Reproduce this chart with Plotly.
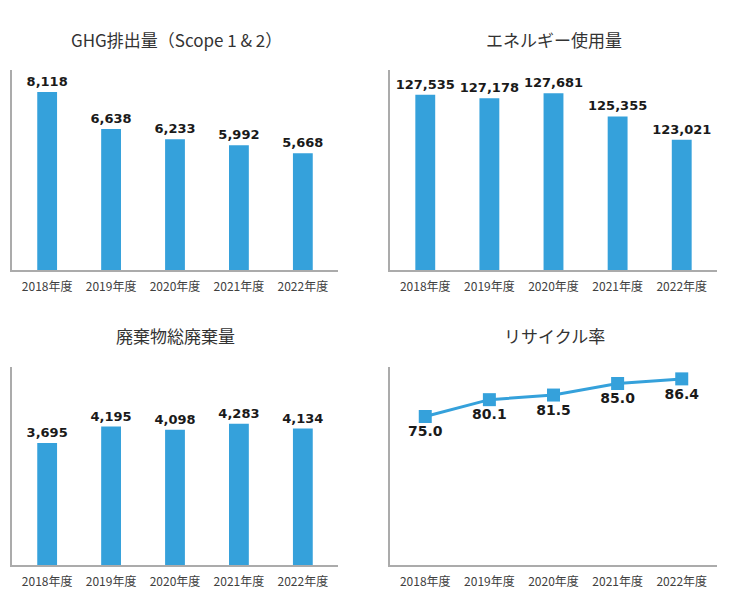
import plotly.graph_objects as go
from plotly.subplots import make_subplots

years = ["2018年度", "2019年度", "2020年度", "2021年度", "2022年度"]
ghg = [8118, 6638, 6233, 5992, 5668]
energy = [127535, 127178, 127681, 125355, 123021]
waste = [3695, 4195, 4098, 4283, 4134]
recycle = [75.0, 80.1, 81.5, 85.0, 86.4]

titles = ["GHG排出量（Scope 1 & 2）", "エネルギー使用量", "廃棄物総廃棄量", "リサイクル率"]

BLUE = "#35A1DB"
W, H = 730, 595

fig = make_subplots(rows=2, cols=2)

label_font = dict(family="DejaVu Sans", size=13, color="#1a1a1a", weight="bold")

def add_bar(vals, r, c):
    fig.add_trace(go.Bar(x=years, y=vals, marker=dict(color=BLUE, line=dict(width=0)),
                         width=0.31, texttemplate="%{y:,}", textposition="outside",
                         constraintext="none",
                         textfont=label_font, cliponaxis=False, showlegend=False),
                  row=r, col=c)

add_bar(ghg, 1, 1)
add_bar(energy, 1, 2)
add_bar(waste, 2, 1)
fig.add_trace(go.Scatter(x=years, y=recycle, mode="lines+markers+text",
                         line=dict(color=BLUE, width=3),
                         marker=dict(symbol="square", size=13, color=BLUE),
                         texttemplate="%{y:.1f}", textposition="bottom center",
                         textfont=dict(family="DejaVu Sans", size=14, color="#1a1a1a", weight="bold"),
                         cliponaxis=False, showlegend=False),
              row=2, col=2)

def px_x(a, b):
    return [a / W, b / W]

def px_y(top, bottom):
    return [(H - bottom) / H, (H - top) / H]

xdoms = [px_x(12, 338), px_x(390, 717)]
ydoms = [px_y(70, 270), px_y(367, 565)]
yranges = {(1, 1): [1000, 9000], (1, 2): [110000, 130000], (2, 1): [0, 6000], (2, 2): [30, 90]}

for r in (1, 2):
    for c in (1, 2):
        fig.update_xaxes(domain=xdoms[c - 1], range=[-0.55, 4.55], showline=True,
                         linecolor="#ABABAB", linewidth=2, showgrid=False, ticks="",
                         ticklabelstandoff=5,
                         tickfont=dict(family="Noto Sans CJK JP", size=12, color="#404040"),
                         zeroline=False, row=r, col=c)
        fig.update_yaxes(domain=ydoms[r - 1], range=yranges[(r, c)], showline=True,
                         linecolor="#ABABAB", linewidth=2, showgrid=False,
                         showticklabels=False, ticks="", zeroline=False, row=r, col=c)

title_pos = [(176, 40), (554, 40), (175, 335), (554, 335)]
for t, (x, y) in zip(titles, title_pos):
    fig.add_annotation(text=t, x=x / W, y=(H - y) / H, xref="paper", yref="paper",
                       xanchor="center", yanchor="middle", showarrow=False,
                       font=dict(family="Noto Sans CJK JP", size=17, color="#333333"))

fig.update_layout(width=W, height=H, margin=dict(l=0, r=0, t=0, b=0),
                  paper_bgcolor="white", plot_bgcolor="white", bargap=0.69)

fig.write_html("out.html", config={"displayModeBar": False},
               post_script="document.body.style.margin='0';")
